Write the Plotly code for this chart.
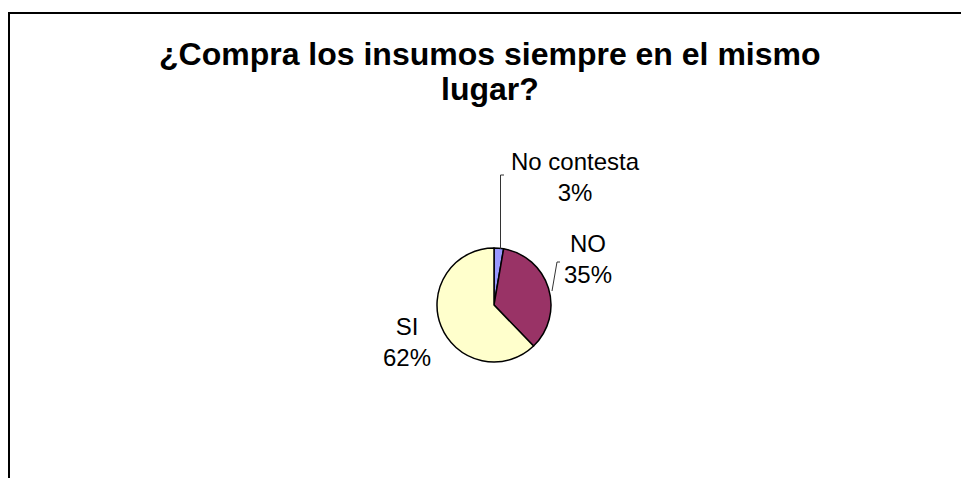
import plotly.graph_objects as go

# Data
labels = ["No contesta", "NO", "SI"]
values = [2.7, 35.1, 62.2]
colors = ["#9999FF", "#993366", "#FFFFCC"]
title_lines = ["¿Compra los insumos siempre en el mismo", "lugar?"]

W, H = 969, 478
OFF = 8  # page body margin
FONT = "Liberation Sans, Arial, sans-serif"


def px(x):
    return (x - OFF) / W


def py(y):
    return 1 - (y - OFF) / H


fig = go.Figure(go.Pie(
    labels=labels,
    values=values,
    marker=dict(colors=colors, line=dict(color="black", width=1.5)),
    sort=False,
    direction="clockwise",
    rotation=0,
    textinfo="none",
    hoverinfo="label+percent",
    showlegend=False,
    domain=dict(x=[px(436), px(552)], y=[py(362), py(248)]),
))

# percentage labels from the values
total = sum(values)
pct = [round(v / total * 100) for v in values]
label_pos = [(575, 177), (588, 259), (407, 342)]

annotations = []
for lab, p, (lx, ly) in zip(labels, pct, label_pos):
    annotations.append(dict(
        x=px(lx), y=py(ly), xref="paper", yref="paper",
        text=f"{lab}<br>{p}%", showarrow=False,
        xanchor="center", yanchor="middle", align="center",
        font=dict(family=FONT, size=24, color="black"),
    ))

# title, two lines as in the original
for line, ty in zip(title_lines, [54, 89]):
    annotations.append(dict(
        x=px(490), y=py(ty), xref="paper", yref="paper",
        text=f"<b>{line}</b>", showarrow=False,
        xanchor="center", yanchor="middle",
        font=dict(family=FONT, size=32, color="black"),
    ))

shapes = [
    # chart frame (runs off the right and bottom)
    dict(type="rect", xref="paper", yref="paper",
         x0=px(9), y0=py(13), x1=px(1000), y1=py(510),
         line=dict(color="black", width=2)),
    # leader lines
    dict(type="line", xref="paper", yref="paper",
         x0=px(500.5), y0=py(249), x1=px(500.5), y1=py(175),
         line=dict(color="#333333", width=1)),
    dict(type="line", xref="paper", yref="paper",
         x0=px(500.5), y0=py(175), x1=px(504), y1=py(175),
         line=dict(color="#333333", width=1)),
    dict(type="line", xref="paper", yref="paper",
         x0=px(552), y0=py(291), x1=px(557), y1=py(262),
         line=dict(color="#333333", width=1)),
    dict(type="line", xref="paper", yref="paper",
         x0=px(557), y0=py(262), x1=px(560), y1=py(262),
         line=dict(color="#333333", width=1)),
]

fig.update_layout(
    width=W, height=H,
    margin=dict(l=0, r=0, t=0, b=0),
    paper_bgcolor="white",
    plot_bgcolor="white",
    annotations=annotations,
    shapes=shapes,
)

fig.write_html("out.html")
